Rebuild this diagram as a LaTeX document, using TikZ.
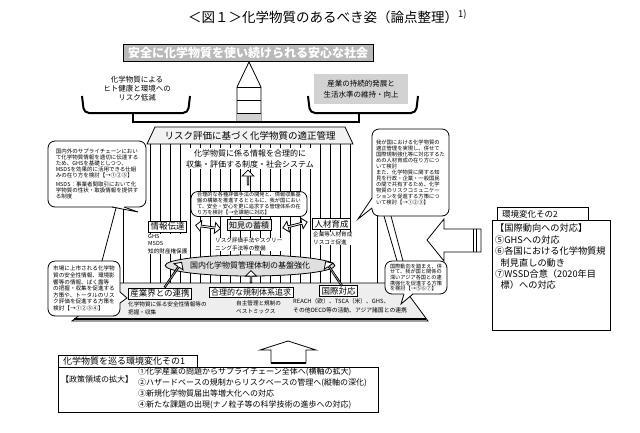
\documentclass[tikz,border=0pt]{standalone}
\usepackage{fontspec}
\setmainfont{Noto Sans CJK JP}
\usetikzlibrary{shapes.arrows,shapes.geometric}
\newcommand{\fsz}[2]{\fontsize{#1}{#2}\selectfont}
\begin{document}
\begin{tikzpicture}[x=1pt,y=-1pt,
 ln/.style={line width=0.8pt},
 bub/.style={draw,line width=0.8pt,rounded corners=7pt,fill=white,align=left,inner sep=0pt},
 lbl/.style={draw,line width=0.8pt,fill=white,inner xsep=2pt,inner ysep=1.5pt,font=\fsz{8.5}{10}},
 note/.style={align=left,inner sep=0pt,anchor=north west,font=\fsz{5.6}{7.4}},
 hollow/.style={draw,line width=0.8pt,fill=white},
 sarrow/.style={single arrow,hollow,inner sep=0pt,single arrow head extend=2.5pt},
 darrow/.style={double arrow,hollow,inner sep=0pt,double arrow head extend=2pt},
]
\useasboundingbox (0,0) rectangle (640,432);
\fill[white] (0,0) rectangle (640,432);

% title
\node[anchor=west,font=\fsz{13.5}{15},inner sep=0] (title) at (188,17) {＜図１＞化学物質のあるべき姿（論点整理）\textsuperscript{1)}};

% goal banner
\node[draw,ln,fill=gray!55,text=white,minimum width=250pt,minimum height=17pt,inner sep=0,font=\fsz{12}{14}\bfseries] (goal) at (248,52.5) {安全に化学物質を使い続けられる安心な社会};

% balance column
\draw[ln,fill=white] (249,62) -- (261,87) -- (261,122) -- (237,122) -- (237,87) -- cycle;
\fill[gray!35] (237.4,113) rectangle (260.6,121.6);
\draw[ln] (237,87) -- (261,87) (237,100) -- (261,100) (237,113) -- (261,113);

% pans
\draw[line width=2pt,rounded corners=5pt] (82,96) -- (84,113) -- (188,113) -- (190,96);
\draw[line width=2pt,rounded corners=5pt] (308,96) -- (310,113) -- (416,113) -- (418,96);
\node[align=center,font=\fsz{7.5}{8.8},inner sep=0] (risk) at (137,88.5) {化学物質による\\ヒト健康と環境への\\リスク低減};
\node[fill=gray!35,align=center,minimum width=94pt,minimum height=30pt,inner sep=0,font=\fsz{7.5}{11}] (econ) at (361,89) {産業の持続的発展と\\生活水準の維持・向上};

% beam
\coordinate (lp) at (133,113);
\coordinate (rp) at (359,113);
\coordinate (cb0) at (249,122);
\draw[line width=1.2pt] (lp) |- (cb0) -| (rp);

% roof
\draw[ln,fill=gray!10] (155,127) -- (345,127) -- (353,144) -- (147,144) -- cycle;
\node[font=\fsz{9.5}{11},inner sep=0] (roof) at (250,136) {リスク評価に基づく化学物質の適正管理};

% columns
\foreach \x in {150,160,...,350} \draw[line width=0.6pt] (\x,144) -- (\x,283);
\draw[line width=0.6pt] (123,208) -- (123,283) (377,216) -- (377,283);

% base
\draw[ln,fill=gray!13] (120,283) -- (400,283) -- (428,321) -- (72,321) -- cycle;
\draw[line width=1.5pt] (74,319) -- (426,319);

% inner texts
\node[fill=white,align=center,font=\fsz{8}{11},inner sep=1pt] (sys) at (250,158.5) {化学物質に係る情報を合理的に\\収集・評価する制度・社会システム};
\node[sarrow,rotate=90,minimum height=15pt,minimum width=12pt] (ua1) at (248,178) {};

\node[bub,minimum width=116pt,minimum height=25pt,font=\fsz{5.2}{6}] (cbub) at (249,204) {合理的な各種評価手法の開発と、情報収集基\\盤の構築を推進するとともに、我が国におい\\て、安全・安心を更に追求する管理体系の在\\り方を検討【→全課題に対応】};

\node[lbl] (info) at (167.5,226.5) {情報伝達};
\node[lbl,fill=gray!15,font=\fsz{8}{10}] (know) at (249,225) {知見の蓄積};
\node[lbl] (hr) at (331.5,224) {人材育成};

\node[note,fill=white] (n1) at (148,234) {GHS\\MSDS\\知的財産権保護};
\node[note,fill=white] (n2) at (215,238) {リスク評価手法やスクリー\\ニング手法等の整備};
\node[note,fill=white] (n3) at (313,232) {企業等人材育成\\リスコミ促進};

\node[darrow,rotate=-8,minimum height=25pt,minimum width=11pt] (da1) at (208,227) {};
\node[darrow,rotate=14,minimum height=25pt,minimum width=11pt] (da2) at (295,225) {};

\node[ellipse,draw,ln,fill=gray!25,minimum width=154pt,minimum height=21pt,inner sep=0,font=\fsz{8}{10}] (core) at (250,265.5) {国内化学物質管理体制の基盤強化};

% bottom row
\node[lbl] (ind) at (160,293.5) {産業界との連携};
\node[lbl,font=\fsz{8}{10}] (reg) at (251,292.5) {合理的な規制体系追求};
\node[lbl] (intl) at (338.5,291) {国際対応};
\node[note] (n4) at (128,302) {化学物質に係る安全性情報等の\\把握・収集};
\node[note] (n5) at (236,301) {自主管理と規制の\\ベストミックス};
\node[note,font=\fsz{5.8}{8.5}] (n6) at (293,298.5) {REACH（欧）、TSCA（米）、GHS、\\その他OECD等の活動、アジア諸国との連携};

\node[sarrow,rotate=56,minimum height=30pt,minimum width=11pt] (sa1) at (173,275) {};
\node[sarrow,rotate=124,minimum height=29pt,minimum width=11pt] (sa2) at (334,274) {};
\node[sarrow,rotate=90,minimum height=12pt,minimum width=11pt] (ua2) at (251,277) {};

% left top bubble
\node[bub,minimum width=98pt,minimum height=66pt,font=\fsz{5.5}{6.1}] (b1) at (97,174) {国内外のサプライチェーンにおい\\て化学物質情報を適切に伝達する\\ため、GHSを基礎としつつ、\\MSDSを効果的に活用できる仕組\\みの在り方を検討【→①②③】\\[3pt]MSDS：事業者間取引において化\\学物質の性状・取扱情報を提供す\\る制度};
\fill[white] (112,206.2) -- (138,212) -- (124,206.2) -- cycle;
\draw[ln] (112,207) -- (138,212) -- (124,207);
\draw[ln] (116,208) -- (102,261);

% left bottom bubble
\node[bub,minimum width=72pt,minimum height=55pt,font=\fsz{5.6}{6.6}] (b2) at (84,288.5) {市場に上市される化学物\\質の安全性情報、環境影\\響等の情報、ばく露等\\の把握・収集を促進する\\方策や、トータルのリス\\ク評価を促進する方策を\\検討【→①②③④】};
\fill[white] (119.2,292) -- (127,298) -- (119.2,303) -- cycle;
\draw[ln] (120,292) -- (127,298) -- (120,303);

% right top bubble
\node[bub,minimum width=77pt,minimum height=87pt,font=\fsz{5.3}{6}] (b3) at (410.5,172.5) {我が国における化学物質の\\適正管理を実現し、併せて\\国際規制強化等に対応するた\\めの人材育成の在り方につ\\いて検討\\また、化学物質に関する知\\見を行政・企業・一般国民\\の間で共有するため、化学\\物質のリスクコミュニケー\\ションを促進する方策につ\\いて検討【→①②③】};
\fill[white] (372.8,198) -- (358,219) -- (372.8,208) -- cycle;
\draw[ln] (372,198) -- (358,219) -- (372,208);
\draw[ln] (384,216) -- (397,261) (391,216) -- (403,261);

% right bottom bubble
\node[bub,minimum width=62pt,minimum height=33pt,font=\fsz{5.2}{5.6}] (b4) at (416,277.5) {国際動向を踏まえ、併\\せて、我が国と関係の\\深いアジア各国との連\\携強化を促進する方策\\を検討【→⑤⑥⑦】};
\fill[white] (404,293.2) -- (401,304) -- (413,293.2) -- cycle;
\draw[ln] (404,294) -- (401,304) -- (413,294);

% arrow from environment change 2
\draw[ln,fill=white] (427,240) -- (444,219) -- (444,229) -- (481,229) -- (481,252) -- (444,252) -- (444,261) -- cycle;
\draw[ln] (473,229) -- (473,252) (476.5,229) -- (476.5,252);

% environment change 2
\node[draw,ln,minimum width=91pt,minimum height=14pt,anchor=north west,inner sep=0] (t2box) at (497,207) {};
\node[anchor=west,font=\fsz{8.5}{10},inner sep=0] (t2) at (502,214) {環境変化その2};
\node[draw,ln,fill=white,minimum width=118pt,minimum height=110pt,anchor=north west,inner sep=0] (e2box) at (492,220) {};
\node[anchor=north west,align=left,inner sep=0,font=\fsz{9.2}{11.4}] (e2) at (495,224) {【国際動向への対応】\\⑤GHSへの対応\\⑥各国における化学物質規\\\hspace*{0.6em}制見直しの動き\\⑦WSSD合意（2020年目\\\hspace*{0.6em}標）への対応};

% big up arrow
\draw[ln,fill=white] (288,341) -- (316,350) -- (306,350) -- (306,363) -- (271,363) -- (271,350) -- (260,350) -- cycle;
\draw[line width=2pt] (271,363) -- (306,363);

% environment change 1
\node[draw,ln,minimum width=139pt,minimum height=12pt,anchor=north west,inner sep=0] (t1box) at (58,355) {};
\node[anchor=west,font=\fsz{9}{10},inner sep=0] (t1) at (63,361) {化学物質を巡る環境変化その1};
\node[draw,ln,fill=white,minimum width=320pt,minimum height=45pt,anchor=north west,inner sep=0] (e1box) at (58,367) {};
\node[anchor=west,font=\fsz{8}{10},inner sep=0] (pol) at (61,379) {【政策領域の拡大】};
\node[anchor=north west,align=left,inner sep=0,font=\fsz{8}{11}] (e1) at (138,367.5) {①化学産業の問題からサプライチェーン全体へ(横軸の拡大)\\②ハザードベースの規制からリスクベースの管理へ(縦軸の深化)\\③新規化学物質届出等増大化への対応\\④新たな課題の出現(ナノ粒子等の科学技術の進歩への対応)};
\end{tikzpicture}
\end{document}
